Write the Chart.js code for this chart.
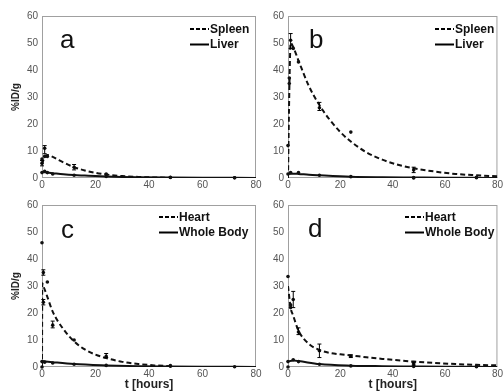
<!DOCTYPE html>
<html lang="en">
<head>
<meta charset="UTF-8">
<title>%ID/g over time</title>
<script src="https://cdn.jsdelivr.net/npm/chart.js"></script>
<style>
    body { margin: 0; background: #fff; }
    .wrap { position: relative; width: 504px; height: 392px; }
    .wrap canvas { position: absolute; left: 0; top: 0; }
</style>
</head>
<body>
<div class="wrap">
    <canvas id="chartA" width="504" height="392"></canvas>
    <canvas id="chartB" width="504" height="392"></canvas>
    <canvas id="chartC" width="504" height="392"></canvas>
    <canvas id="chartD" width="504" height="392"></canvas>
</div>
<script>
// ---- panel a: Spleen / Liver ----
const fitTimeA = [0, 1, 2, 4, 8, 12, 16, 20, 24, 30, 36, 42, 48];
const spleenFitA = [5, 7.8, 8.5, 7.8, 5.8, 4.0, 2.8, 1.9, 1.3, 0.7, 0.4, 0.2, 0.1];
const liverFitTimeA = [0, 2, 4, 8, 12, 16, 20, 24, 30, 36, 48, 60, 72, 80];
const liverFitA = [2.2, 2.0, 1.8, 1.4, 1.1, 0.9, 0.7, 0.55, 0.4, 0.3, 0.15, 0.08, 0.05, 0.03];
const spleenPtTimeA = [0, 0, 1, 1, 2, 12, 24, 48, 72];
const spleenPtA = [5.5, 7, 11, 8, 8, 4, 1.5, 0.3, 0.1];
const liverPtTimeA = [0, 1, 2, 4, 12, 24, 48, 72];
const liverPtA = [2, 2.5, 2, 1.5, 1, 0.6, 0.2, 0.1];
const errTimeA = [1, 12, 0];
const errLowA = [9, 3, 4.5];
const errHighA = [12, 5, 6.5];

// ---- panel b: Spleen / Liver ----
const fitTimeB = [0, 0.5, 1, 2, 4, 8, 12, 16, 20, 24, 30, 36, 42, 48, 56, 64, 72, 80];
const spleenFitB = [0, 32, 50, 48.5, 43.5, 34, 27, 21.5, 17, 13.5, 9.5, 6.8, 4.9, 3.6, 2.4, 1.5, 1, 0.6];
const liverFitTimeB = [0, 2, 4, 8, 12, 24, 36, 48, 60, 72, 80];
const liverFitB = [1.5, 1.6, 1.5, 1.2, 1.0, 0.5, 0.3, 0.2, 0.1, 0.05, 0.03];
const spleenPtTimeB = [0, 0.5, 0.5, 1, 2, 4, 12, 24, 48, 72];
const spleenPtB = [12, 35, 37, 51, 48, 43, 26, 17, 3, 0.3];
const liverPtTimeB = [0, 1, 4, 12, 24, 48, 48, 72];
const liverPtB = [1.5, 2, 2, 1, 0.5, 0.2, 0, 0.1];
const errTimeB = [1, 12, 48];
const errLowB = [48, 25, 2];
const errHighB = [53.5, 28, 4];

// ---- panel c: Heart / Whole Body ----
const fitTimeC = [0, 0.1, 0.5, 2, 4, 8, 12, 16, 20, 24, 30, 36, 42, 48];
const heartFitC = [0, 31, 30, 26, 20.5, 14, 9.5, 6.5, 4.6, 3.3, 1.9, 1.1, 0.6, 0.3];
const bodyFitTimeC = [0, 4, 12, 24, 36, 48, 60, 72, 80];
const bodyFitC = [2.2, 1.8, 1.1, 0.6, 0.3, 0.15, 0.08, 0.05, 0.03];
const heartPtTimeC = [0, 0, 0.5, 0.5, 2, 4, 12, 24, 48];
const heartPtC = [46, 0, 35, 24, 31.5, 15.5, 10, 4, 0.5];
const bodyPtTimeC = [0, 1, 4, 12, 24, 48, 72];
const bodyPtC = [2, 1.8, 1.5, 1, 0.6, 0.3, 0.1];
const errTimeC = [0.5, 0.5, 4, 24];
const errLowC = [34, 23, 14.5, 3.5];
const errHighC = [36, 25, 17, 5];

// ---- panel d: Heart / Whole Body ----
const fitTimeD = [0, 1, 2, 4, 8, 12, 16, 20, 24, 30, 36, 42, 48, 56, 64, 72, 80];
const heartFitD = [30, 22, 19, 13.5, 8.5, 6.3, 5.2, 4.7, 4.3, 3.6, 3, 2.5, 2, 1.5, 1.1, 0.8, 0.6];
const bodyFitTimeD = [0, 2, 4, 12, 24, 36, 48, 60, 72, 80];
const bodyFitD = [2, 2.4, 2.2, 1.1, 0.5, 0.3, 0.2, 0.1, 0.05, 0.03];
const heartPtTimeD = [0, 1, 1, 2, 4, 12, 24, 48, 72];
const heartPtD = [33.5, 22, 23, 25, 13, 6, 4, 1.2, 0.3];
const bodyPtTimeD = [0, 0, 2, 4, 12, 24, 48, 72];
const bodyPtD = [2, 0, 2.7, 2, 1, 0.4, 0.2, 0.1];
const errTimeD = [2, 4, 12, 24, 48];
const errLowD = [22, 12, 3.5, 3.5, 0.7];
const errHighD = [28, 14.5, 8.5, 4.5, 1.7];

const xTicks = [0, 20, 40, 60, 80];
const yTicks = [0, 10, 20, 30, 40, 50, 60];

function toXY(xs, ys) {
    return xs.map((x, i) => ({ x: x, y: ys[i] }));
}

// frame under the data, then error bars, panel letter and legend on top
const panelDecor = {
    id: 'panelDecor',
    beforeDatasetsDraw(chart) {
        const ctx = chart.ctx;
        const a = chart.chartArea;
        ctx.save();
        ctx.strokeStyle = '#a0a0a0';
        ctx.lineWidth = 1;
        ctx.strokeRect(a.left + 0.5, a.top + 0.5, a.right - a.left - 1, a.bottom - a.top - 1);
        ctx.restore();
    },
    afterDatasetsDraw(chart, args, opts) {
        const ctx = chart.ctx;
        const xs = chart.scales.x, ys = chart.scales.y;
        ctx.save();
        // error bars
        ctx.strokeStyle = '#000';
        ctx.lineWidth = 1;
        opts.errT.forEach((t, i) => {
            const px = xs.getPixelForValue(t);
            const lo = ys.getPixelForValue(opts.errLo[i]);
            const hi = ys.getPixelForValue(opts.errHi[i]);
            ctx.beginPath();
            ctx.moveTo(px, lo); ctx.lineTo(px, hi);
            ctx.moveTo(px - 2, lo); ctx.lineTo(px + 2, lo);
            ctx.moveTo(px - 2, hi); ctx.lineTo(px + 2, hi);
            ctx.stroke();
        });
        // panel letter
        ctx.fillStyle = '#111';
        ctx.font = '26px "Liberation Sans", Arial, sans-serif';
        ctx.textBaseline = 'alphabetic';
        ctx.fillText(opts.letter, opts.letterX, opts.letterY);
        // legend
        ctx.font = 'bold 12px "Liberation Sans", Arial, sans-serif';
        ctx.textBaseline = 'middle';
        ctx.lineWidth = 2;
        opts.legend.forEach((label, i) => {
            const y = opts.legendY + i * 15.5;
            ctx.beginPath();
            ctx.setLineDash(i === 0 ? [4, 2] : []);
            ctx.moveTo(opts.legendX, y);
            ctx.lineTo(opts.legendX + 19, y);
            ctx.stroke();
            ctx.setLineDash([]);
            ctx.fillText(label, opts.legendX + 20, y + 0.5);
        });
        ctx.restore();
    }
};

function makePanel(id, p) {
    const datasets = [
        {
            data: toXY(p.fitT, p.fit1), showLine: true, borderColor: '#111', borderWidth: 2,
            borderDash: [5, 3], pointRadius: 0, cubicInterpolationMode: 'monotone'
        },
        {
            data: toXY(p.fitT2, p.fit2), showLine: true, borderColor: '#111', borderWidth: 2,
            pointRadius: 0, cubicInterpolationMode: 'monotone'
        },
        {
            data: toXY(p.ptT1, p.pt1), showLine: false, pointRadius: 1.8, clip: 4,
            backgroundColor: '#111', borderColor: '#111', borderWidth: 0
        },
        {
            data: toXY(p.ptT2, p.pt2), showLine: false, pointRadius: 1.8, clip: 4,
            backgroundColor: '#111', borderColor: '#111', borderWidth: 0
        }
    ];
    const fam = '"Liberation Sans", Arial, sans-serif';
    return new Chart(document.getElementById(id), {
        type: 'scatter',
        data: { datasets: datasets },
        options: {
            responsive: false,
            animation: false,
            events: [],
            layout: { padding: p.pad },
            plugins: {
                legend: { display: false },
                tooltip: { enabled: false },
                panelDecor: p.decor
            },
            scales: {
                x: {
                    type: 'linear', min: 0, max: 80,
                    afterBuildTicks: s => { s.ticks = xTicks.map(v => ({ value: v })); },
                    afterFit: s => { s.height = p.xHeight; },
                    grid: { display: false, drawTicks: false },
                    border: { display: false },
                    ticks: { color: '#555', padding: 1, maxRotation: 0, font: { family: fam, size: 10 } },
                    title: {
                        display: p.xTitle, text: 't [hours]', color: '#222',
                        padding: { top: 0, bottom: 0 },
                        font: { family: fam, size: 12, weight: 'bold' }
                    }
                },
                y: {
                    type: 'linear', min: 0, max: 60,
                    afterBuildTicks: s => { s.ticks = yTicks.map(v => ({ value: v })); },
                    afterFit: s => { s.width = p.yWidth; },
                    grid: { display: false, drawTicks: false },
                    border: { display: false },
                    ticks: { color: '#555', padding: 4, font: { family: fam, size: 10 } },
                    title: {
                        display: p.yTitle, text: '%ID/g', color: '#222',
                        padding: { top: 10, bottom: 0 },
                        font: { family: fam, size: 10, weight: 'bold' }
                    }
                }
            }
        },
        plugins: [panelDecor]
    });
}

makePanel('chartA', {
    fitT: fitTimeA, fit1: spleenFitA, fitT2: liverFitTimeA, fit2: liverFitA,
    ptT1: spleenPtTimeA, pt1: spleenPtA, ptT2: liverPtTimeA, pt2: liverPtA,
    pad: { left: 0, top: 16, right: 248, bottom: 196 }, xHeight: 18, yWidth: 42,
    xTitle: false, yTitle: true,
    decor: { errT: errTimeA, errLo: errLowA, errHi: errHighA, letter: 'a', letterX: 60, letterY: 48,
             legend: ['Spleen', 'Liver'], legendX: 190, legendY: 29 }
});
makePanel('chartB', {
    fitT: fitTimeB, fit1: spleenFitB, fitT2: liverFitTimeB, fit2: liverFitB,
    ptT1: spleenPtTimeB, pt1: spleenPtB, ptT2: liverPtTimeB, pt2: liverPtB,
    pad: { left: 262, top: 16, right: 4, bottom: 196 }, xHeight: 18, yWidth: 26,
    xTitle: false, yTitle: false,
    decor: { errT: errTimeB, errLo: errLowB, errHi: errHighB, letter: 'b', letterX: 309, letterY: 48,
             legend: ['Spleen', 'Liver'], legendX: 435, legendY: 29 }
});
makePanel('chartC', {
    fitT: fitTimeC, fit1: heartFitC, fitT2: bodyFitTimeC, fit2: bodyFitC,
    ptT1: heartPtTimeC, pt1: heartPtC, ptT2: bodyPtTimeC, pt2: bodyPtC,
    pad: { left: 0, top: 205, right: 248, bottom: 0 }, xHeight: 25, yWidth: 42,
    xTitle: true, yTitle: true,
    decor: { errT: errTimeC, errLo: errLowC, errHi: errHighC, letter: 'c', letterX: 61, letterY: 238,
             legend: ['Heart', 'Whole Body'], legendX: 159, legendY: 217 }
});
makePanel('chartD', {
    fitT: fitTimeD, fit1: heartFitD, fitT2: bodyFitTimeD, fit2: bodyFitD,
    ptT1: heartPtTimeD, pt1: heartPtD, ptT2: bodyPtTimeD, pt2: bodyPtD,
    pad: { left: 262, top: 205, right: 4, bottom: 0 }, xHeight: 25, yWidth: 26,
    xTitle: true, yTitle: false,
    decor: { errT: errTimeD, errLo: errLowD, errHi: errHighD, letter: 'd', letterX: 308, letterY: 237,
             legend: ['Heart', 'Whole Body'], legendX: 405, legendY: 217 }
});
</script>
</body>
</html>
